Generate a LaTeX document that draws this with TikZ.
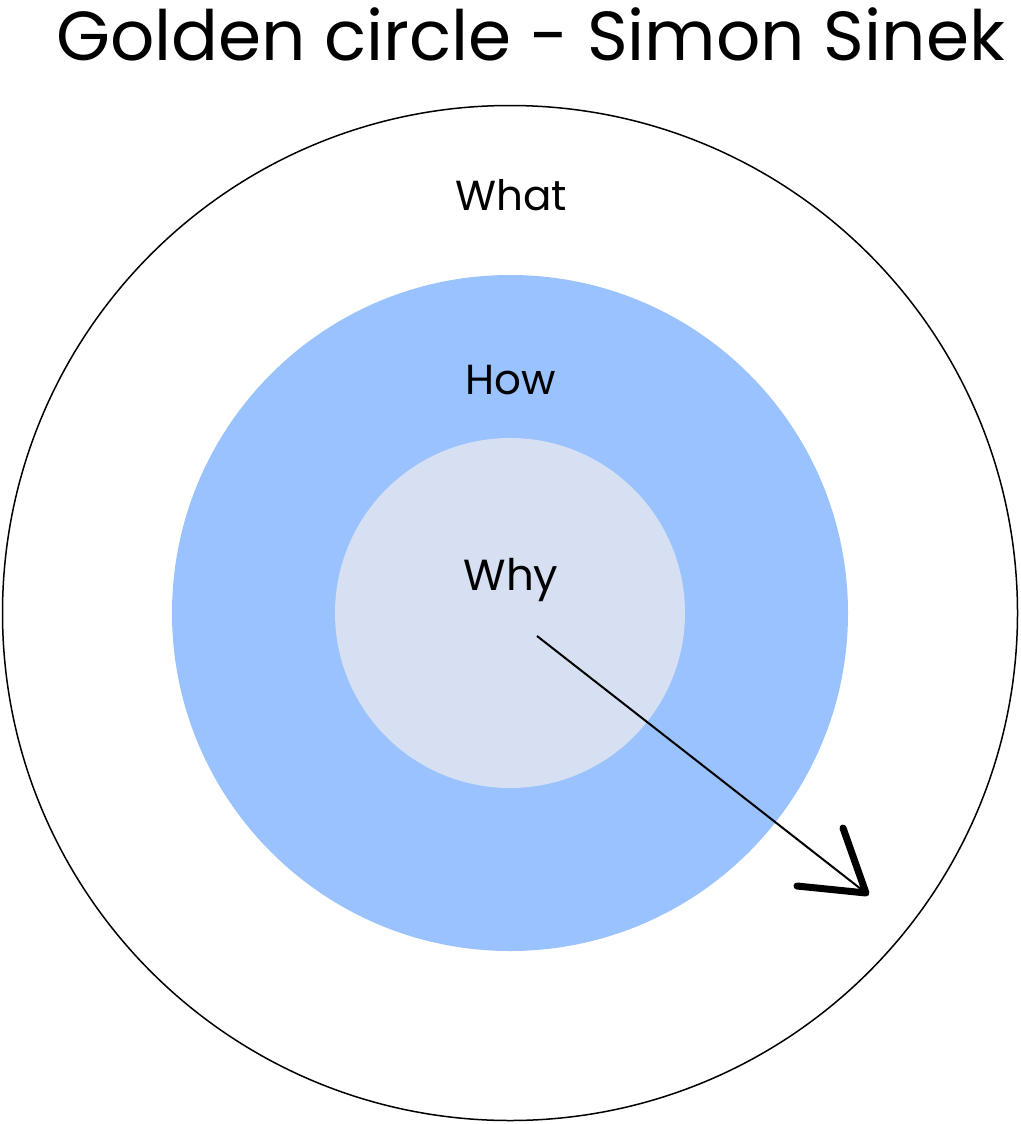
\documentclass[tikz,border=0pt]{standalone}
\usepackage{fontspec}
\setmainfont{Poppins}
\definecolor{midblue}{RGB}{153,194,255}
\definecolor{paleblue}{RGB}{214,224,242}
\begin{document}
\begin{tikzpicture}[x=1pt,y=-1pt,
  ring/.style={circle,inner sep=0pt,outer sep=0pt},
  lbl/.style={anchor=base,inner sep=0pt,font=\fontsize{42}{50}\selectfont}]
\useasboundingbox (0,0) rectangle (1020,1124);
\node[ring,draw=black,line width=1.5pt,minimum size=1015] (what) at (510,613) {};
\node[ring,fill=midblue,minimum size=676] (how) at (510,613) {};
\node[ring,fill=paleblue,minimum size=350] (why) at (510,613) {};
\node[anchor=base east,inner sep=0pt,font=\fontsize{69.4}{74}\selectfont] (title) at (1005,60) {Golden circle - Simon Sinek};
\node[lbl] (twhat) at (511,210) {What};
\node[lbl] (thow) at (511,394) {How};
\node[lbl,font=\fontsize{43.5}{50}\selectfont] (twhy) at (511,590) {Why};
\coordinate (s) at (537,636);
\coordinate (tip) at (866,893);
\coordinate (b1) at (843,828);
\coordinate (b2) at (797,886);
\draw[line width=2pt] (s) -- (tip);
\draw[line width=7pt,line cap=round,line join=round] (b1) -- (tip) -- (b2);
\end{tikzpicture}
\end{document}
